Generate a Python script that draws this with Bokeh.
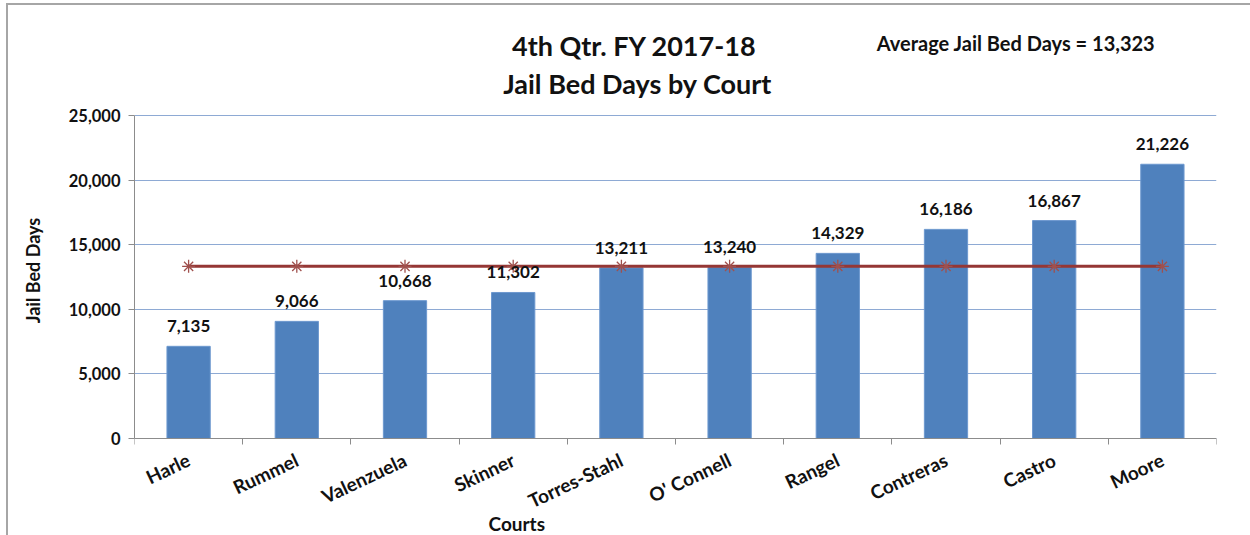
from bokeh.plotting import figure
from bokeh.models import (ColumnDataSource, LabelSet, Label, NumeralTickFormatter,
                          FixedTicker, LinearAxis, Range1d)
from bokeh.core.properties import value
from bokeh.embed import file_html
from bokeh.resources import INLINE

courts = ["Harle", "Rummel", "Valenzuela", "Skinner", "Torres-Stahl",
          "O' Connell", "Rangel", "Contreras", "Castro", "Moore"]
bed_days = [7135, 9066, 10668, 11302, 13211, 13240, 14329, 16186, 16867, 21226]
average = 13323
title_line1 = "4th Qtr.  FY 2017-18"
title_line2 = "Jail Bed Days by Court"
avg_text = "Average Jail Bed Days = 13,323"
x_title = "Courts"
y_title = "Jail Bed Days"
y_ticks = [0, 5000, 10000, 15000, 20000, 25000]
y_max = 25000

FONT = "Lato"
n = len(courts)
slot_center = [i + 0.5 for i in range(n)]   # category slot centres
src = ColumnDataSource(dict(
    x=slot_center,
    days=bed_days,
    avg=[average] * n,
    lab=[f"{v:,}" for v in bed_days],
))

# frame spans the full height so that titles and the x-axis title are inside it;
# the x axes are pinned at value 0.
p = figure(x_range=Range1d(0, n), y_range=Range1d(-7508, 33514),
           frame_width=1082, frame_height=530,
           output_backend="svg", toolbar_location=None,
           x_axis_location=None,
           min_border_left=126, min_border_right=34,
           min_border_top=0, min_border_bottom=0,
           styles={"margin-left": "6px", "margin-top": "3px",
                   "border-left": "2px solid #a6a6a6", "border-top": "2px solid #a6a6a6"})
p.outline_line_color = None
p.xgrid.grid_line_color = None
p.ygrid.grid_line_color = "#8eaad4"
p.ygrid.grid_line_width = 1.2
p.ygrid.ticker = FixedTicker(ticks=y_ticks)

yax = p.yaxis[0]
yax.ticker = FixedTicker(ticks=y_ticks)
yax.bounds = (0, y_max)
yax.formatter = NumeralTickFormatter(format="0,0")
yax.axis_line_color = "#8c8c8c"
yax.major_tick_line_color = "#8c8c8c"
yax.major_tick_out = 6
yax.major_tick_in = 0
yax.minor_tick_line_color = None
yax.major_label_text_font = FONT
yax.major_label_text_font_style = "bold"
yax.major_label_text_font_size = "16.5px"
yax.major_label_text_color = "#111111"
yax.major_label_standoff = 8
yax.axis_label = y_title
yax.axis_label_text_font = FONT
yax.axis_label_text_font_style = "bold"
yax.axis_label_text_font_size = "18px"
yax.axis_label_text_color = "#111111"
yax.axis_label_standoff = 22

# boundary tick axis (Excel-style ticks between categories)
tick_axis = LinearAxis(ticker=FixedTicker(ticks=list(range(n + 1))),
                       fixed_location=0,
                       major_label_overrides={i: "" for i in range(n + 1)},
                       major_label_text_font_size="1px",
                       major_label_standoff=0,
                       axis_line_color="#8c8c8c",
                       major_tick_line_color="#8c8c8c",
                       major_tick_out=6, major_tick_in=0,
                       minor_tick_line_color=None)
p.add_layout(tick_axis, "below")

label_axis = LinearAxis(ticker=FixedTicker(ticks=slot_center),
                        fixed_location=0,
                        major_label_overrides={c: name for c, name in zip(slot_center, courts)},
                        axis_line_color=None, major_tick_line_color=None,
                        minor_tick_line_color=None,
                        major_label_orientation=0.44,
                        major_label_text_font=FONT,
                        major_label_text_font_style="bold",
                        major_label_text_font_size="19px",
                        major_label_text_color="#111111",
                        major_label_standoff=14)
p.add_layout(label_axis, "below")

p.vbar(x="x", top="days", width=0.4, source=src,
       fill_color="#4f81bd", line_color="#6d98cf", line_width=1)

p.line(x="x", y="avg", source=src, line_color="#953735", line_width=3)
p.scatter(x="x", y="avg", source=src, marker="asterisk", size=13,
          line_color="#a0504d", line_width=1.3)

labels = LabelSet(x="x", y="days", text="lab", source=src,
                  text_align="center", text_baseline="bottom", y_offset=14,
                  text_font=value(FONT), text_font_style="bold",
                  text_font_size="17px", text_color="#111111")
p.add_layout(labels)

for txt, yy in [(title_line1, 30418), (title_line2, 27477)]:
    p.add_layout(Label(x=4.65, y=yy, text=txt, text_align="center",
                       text_baseline="alphabetic", text_font=FONT,
                       text_font_style="bold", text_font_size="27px",
                       text_color="#111111"))
p.add_layout(Label(x=6.86, y=30573, text=avg_text, text_align="left",
                   text_baseline="alphabetic", text_font=FONT,
                   text_font_style="bold", text_font_size="20px",
                   text_color="#111111"))
p.add_layout(Label(x=3.272, y=-6579, text=x_title, text_align="left",
                   text_baseline="alphabetic", text_font=FONT,
                   text_font_style="bold", text_font_size="19px",
                   text_color="#111111"))

open("out.html", "w").write(file_html(p, INLINE))
